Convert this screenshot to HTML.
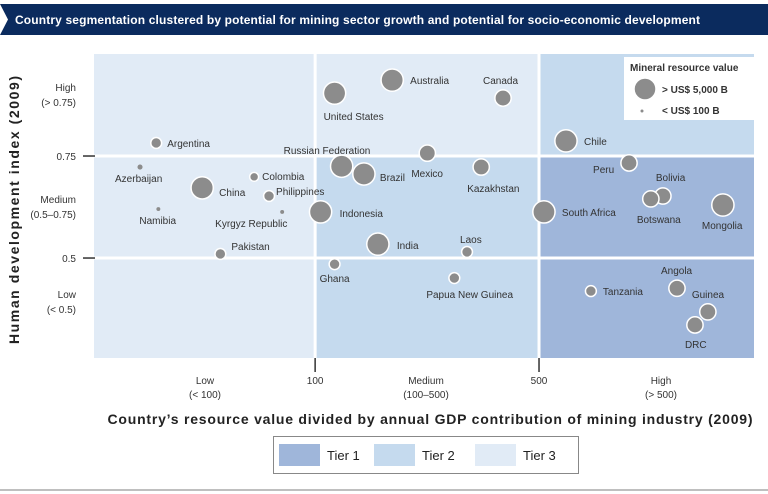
<!DOCTYPE html>
<html><head><meta charset="utf-8"><style>
body{margin:0;background:#fff;}
svg{display:block;font-family:"Liberation Sans",sans-serif;}
</style></head><body>
<svg id="c" width="768" height="494" viewBox="0 0 768 494">
<path d="M0 4 H768 V35 H0 L8 19.5 Z" fill="#0b2b5e"/>
<text x="15" y="24" fill="#fff" font-size="12" font-weight="bold" textLength="685">Country segmentation clustered by potential for mining sector growth and potential for socio-economic development</text>
<g id="regions"></g>
<g id="axes"></g>
<g id="pts"></g>
<g>
<rect x="624" y="57" width="131" height="63" fill="#fff"/>
<text x="630" y="71" font-size="10" font-weight="bold" fill="#333">Mineral resource value</text>
<circle cx="645" cy="89" r="11" fill="#8c8c8c" stroke="#fff" stroke-width="1.5"/>
<text x="662" y="93" font-size="10" font-weight="bold" fill="#333">&gt; US$ 5,000 B</text>
<circle cx="642" cy="111" r="1.5" fill="#8c8c8c"/>
<text x="662" y="114" font-size="10" font-weight="bold" fill="#333">&lt; US$ 100 B</text>
</g>
<text transform="translate(19,210) rotate(-90)" text-anchor="middle" font-size="14" font-weight="bold" fill="#222" textLength="268">Human development index (2009)</text>
<text x="430" y="424" text-anchor="middle" font-size="14" font-weight="bold" fill="#222" textLength="645">Country’s resource value divided by annual GDP contribution of mining industry (2009)</text>
<g>
<rect x="273.5" y="436.5" width="305" height="37" fill="#fff" stroke="#888"/>
<rect x="279" y="444" width="41" height="22" fill="#9fb6da"/>
<text x="327" y="460" font-size="13" fill="#222">Tier 1</text>
<rect x="374" y="444" width="41" height="22" fill="#c5daee"/>
<text x="422" y="460" font-size="13" fill="#222">Tier 2</text>
<rect x="475" y="444" width="41" height="22" fill="#e1ebf6"/>
<text x="523" y="460" font-size="13" fill="#222">Tier 3</text>
</g>
<line x1="0" y1="490" x2="768" y2="490" stroke="#aaa" stroke-width="1.5"/>
</svg>
<script>
const countries=["Australia","United States","Canada","Argentina","Chile","Russian Federation","Brazil","Mexico","Kazakhstan","Peru","Azerbaijan","China","Colombia","Philippines","Namibia","Kyrgyz Republic","Indonesia","Bolivia","Botswana","South Africa","Mongolia","Pakistan","India","Laos","Ghana","Papua New Guinea","Tanzania","Angola","Guinea","DRC"];
const ratioValues=[174,115,386,31.9,607,121,142,224,330,955,28.4,44.4,64.5,71.8,32.4,78.9,104,1218,1117,518,1875,50.6,157,298,115,272,726,1348,1683,1534];
const hdiValues=[0.936,0.904,0.892,0.782,0.787,0.725,0.706,0.757,0.723,0.733,0.723,0.672,0.699,0.652,0.620,0.613,0.613,0.652,0.645,0.613,0.630,0.510,0.534,0.515,0.485,0.451,0.419,0.426,0.368,0.336];
const resourceValues=[4200,4200,2000,700,4200,4200,4200,2000,2000,2000,50,4200,400,700,10,10,4200,2000,2000,4200,4200,700,4200,700,700,700,700,2000,2000,2000];
const xThresholds=[100,500];
const yThresholds=[0.5,0.75];
const xTickLabels=["100","500"];
const yTickLabels=["0.5","0.75"];
// label offsets (dx,dy) relative to bubble centre
const labelDx=[18,-11,-20,11,18,-58,16,-16,-14,-36,-25,17,8,7,-19,-67,19,-7,-14,18,-21,11,19,-7,-15,-28,12,-16,-16,-10];
const labelDy=[4,27,-14,4,4,-12,7,24,25,10,15,8,3,-1,15,15,5,-15,24,4,24,-4,5,-9,18,20,4,-14,-14,23];

const NS="http://www.w3.org/2000/svg";
const X0=94,X1=754,Y0=54,Y1=358;
const xDom=[20.4,2345],yDom=[0.255,1.0];
const lx=Math.log10;
function xs(v){return X0+(lx(v)-lx(xDom[0]))/(lx(xDom[1])-lx(xDom[0]))*(X1-X0);}
function ys(v){return Y1-(v-yDom[0])/(yDom[1]-yDom[0])*(Y1-Y0);}
function rs(v){return 1.5+10.5*Math.sqrt(v/5000);}
function mk(tag,at,parent,txt){const e=document.createElementNS(NS,tag);for(const k in at)e.setAttribute(k,at[k]);if(txt!==undefined)e.textContent=txt;parent.appendChild(e);return e;}

const reg=document.getElementById('regions');
const xe=[X0,xs(xThresholds[0]),xs(xThresholds[1]),X1];
const ye=[Y0,ys(yThresholds[1]),ys(yThresholds[0]),Y1];
const tiers=[["#e1ebf6","#e1ebf6","#c5daee"],["#e1ebf6","#c5daee","#9fb6da"],["#e1ebf6","#c5daee","#9fb6da"]];
for(let r=0;r<3;r++)for(let c=0;c<3;c++){
 const e=mk('rect',{x:xe[c],y:ye[r],width:xe[c+1]-xe[c],height:ye[r+1]-ye[r],fill:tiers[r][c]},reg);
 
 
}
for(let i=1;i<3;i++){
 const a=mk('line',{x1:xe[i],y1:Y0,x2:xe[i],y2:Y1,stroke:"#fff","stroke-width":3},reg);
 
 
 const b=mk('line',{x1:X0,y1:ye[i],x2:X1,y2:ye[i],stroke:"#fff","stroke-width":3},reg);
 
 
}
const ax=document.getElementById('axes');
xThresholds.forEach((v,i)=>{
 const x=xs(v);
 const t=mk('line',{x1:x,y1:Y1,x2:x,y2:Y1+14,stroke:"#333","stroke-width":1.5},ax);
 
 
 const l=mk('text',{x:x,y:384,"text-anchor":"middle","font-size":10,fill:"#333"},ax,xTickLabels[i]);
 
 
});
yThresholds.forEach((v,i)=>{
 const y=ys(v);
 const t=mk('line',{x1:83,y1:y,x2:95,y2:y,stroke:"#333","stroke-width":1.5},ax);
 
 
 const l=mk('text',{x:76,y:y+4,"text-anchor":"end","font-size":10,fill:"#333"},ax,yTickLabels[i]);
 
 
});
const cats=[[205,"Low","(< 100)"],[426,"Medium","(100–500)"],[661,"High","(> 500)"]];
cats.forEach(c=>{mk('text',{x:c[0],y:384,"text-anchor":"middle","font-size":10,fill:"#333"},ax,c[1]);mk('text',{x:c[0],y:398,"text-anchor":"middle","font-size":10,fill:"#333"},ax,c[2]);});
const ycats=[[91,"High","(> 0.75)"],[203,"Medium","(0.5–0.75)"],[298,"Low","(< 0.5)"]];
ycats.forEach(c=>{mk('text',{x:76,y:c[0],"text-anchor":"end","font-size":10,fill:"#333"},ax,c[1]);mk('text',{x:76,y:c[0]+15,"text-anchor":"end","font-size":10,fill:"#333"},ax,c[2]);});

const pts=document.getElementById('pts');
countries.forEach((n,i)=>{
 const cx=xs(ratioValues[i]),cy=ys(hdiValues[i]),r=rs(resourceValues[i]);
 const c=mk('circle',{cx:cx,cy:cy,r:r,fill:"#8c8c8c",stroke:"#fff","stroke-width":r>3?1.5:0},pts);
 
 
 const t=mk('text',{x:cx+labelDx[i],y:cy+labelDy[i],"font-size":10,fill:"#333"},pts,n);
 
 
});
</script>
</body></html>
